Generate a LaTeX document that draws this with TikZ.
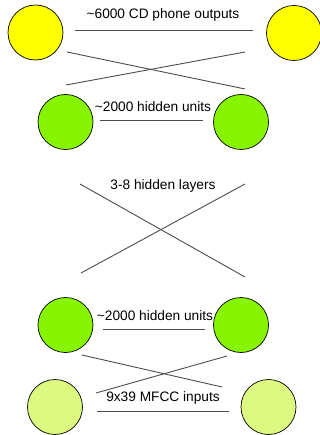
\documentclass[tikz,border=0pt]{standalone}
\usepackage{fontspec}
\setmainfont{Liberation Sans}
\definecolor{outyellow}{HTML}{FFFF00}
\definecolor{hidgreen}{HTML}{88F500}
\definecolor{ingreen}{HTML}{DDFA80}
\begin{document}
\begin{tikzpicture}[x=1pt, y=-1pt,
    unit/.style={circle,draw,line width=0.7pt,minimum size=55pt,inner sep=0pt},
    lbl/.style={font=\fontsize{13.7}{16}\selectfont,inner sep=0pt},
    wire/.style={line width=0.9pt,draw=black!70}]
    \useasboundingbox (0,0) rectangle (320,435);
    % units
    \node[unit,fill=outyellow] (o1) at (35.5,32.5) {};
    \node[unit,fill=outyellow] (o2) at (294,33) {};
    \node[unit,fill=hidgreen] (h1) at (65.5,122) {};
    \node[unit,fill=hidgreen] (h2) at (241,122) {};
    \node[unit,fill=hidgreen] (h3) at (65.5,325) {};
    \node[unit,fill=hidgreen] (h4) at (241,325) {};
    \node[unit,fill=ingreen] (i1) at (55,407) {};
    \node[unit,fill=ingreen] (i2) at (268.5,407) {};
    % labels
    \node[lbl] (tOut) at (163,15) {\textasciitilde6000 CD phone outputs};
    \node[lbl] (tH1) at (153,107) {\textasciitilde2000 hidden units};
    \node[lbl] (tMid) at (163,186) {3-8 hidden layers};
    \node[lbl] (tH2) at (155,316) {\textasciitilde2000 hidden units};
    \node[lbl] (tIn) at (163,398) {9x39 MFCC inputs};
    % line ends
    \coordinate (a1) at (75,30);  \coordinate (a2) at (253,30);
    \coordinate (b1) at (67,52);  \coordinate (b2) at (245,89);
    \coordinate (c1) at (66,85);  \coordinate (c2) at (245,52);
    \coordinate (d1) at (100,120); \coordinate (d2) at (203,120);
    \coordinate (e1) at (80,184); \coordinate (e2) at (245,277);
    \coordinate (f1) at (81,273); \coordinate (f2) at (245,184);
    \coordinate (g1) at (103,329); \coordinate (g2) at (205,329);
    \coordinate (k1) at (82,355); \coordinate (k2) at (222,387);
    \coordinate (m1) at (96,393); \coordinate (m2) at (227,356);
    \coordinate (n1) at (97,411); \coordinate (n2) at (229,411);
    \draw[wire] (a1) -- (a2);
    \draw[wire] (b1) -- (b2);
    \draw[wire] (c1) -- (c2);
    \draw[wire] (d1) -- (d2);
    \draw[wire] (e1) -- (e2);
    \draw[wire] (f1) -- (f2);
    \draw[wire] (g1) -- (g2);
    \draw[wire] (k1) -- (k2);
    \draw[wire] (m1) -- (m2);
    \draw[wire] (n1) -- (n2);
\end{tikzpicture}
\end{document}
